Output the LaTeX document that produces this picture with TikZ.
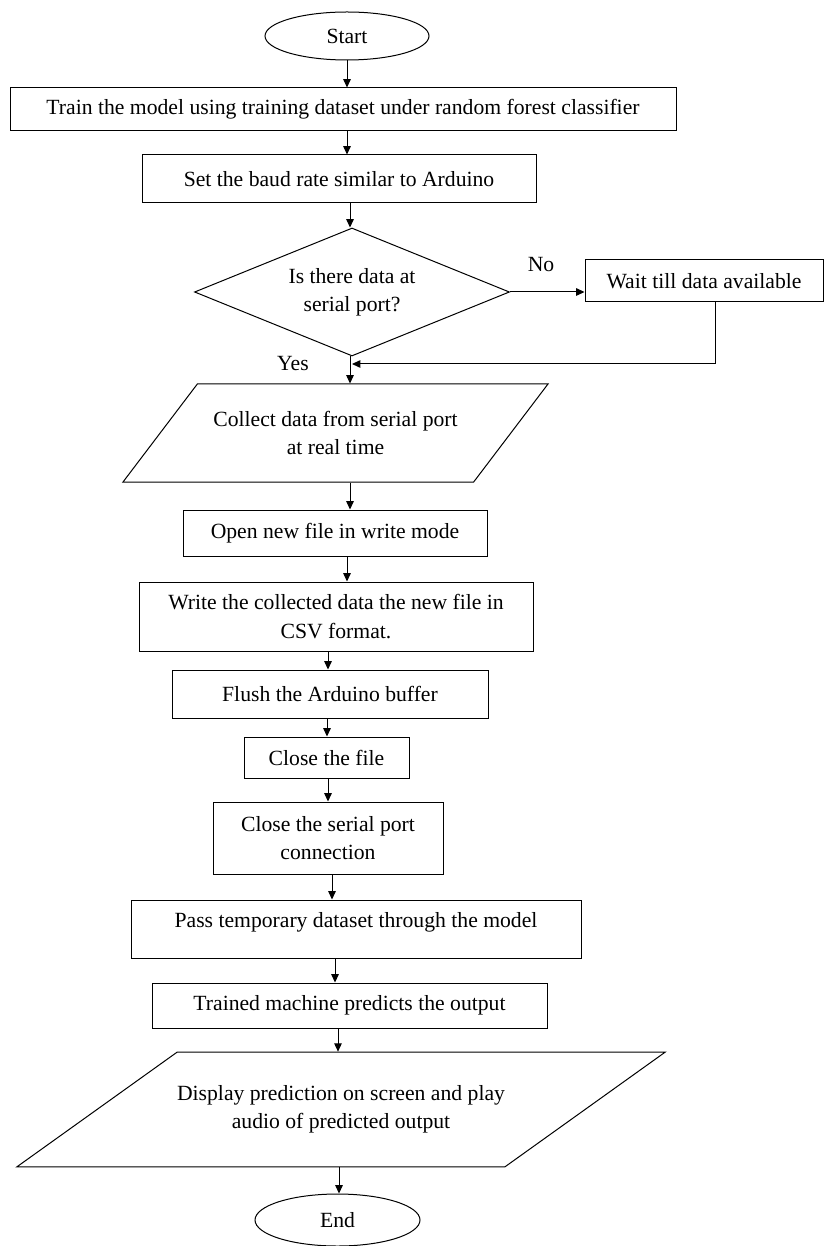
\documentclass[tikz,border=0pt]{standalone}
\usepackage{fontspec}
\setmainfont{Liberation Serif}
\usetikzlibrary{arrows.meta,shapes.geometric}

\begin{document}
\begin{tikzpicture}[x=0.6pt,y=-0.6pt,line width=0.6pt,
    >={Triangle[length=5pt,width=4.5pt]},
    font=\fontsize{13}{17}\selectfont,
    every node/.style={inner sep=0pt,align=center},
    box/.style={draw,rectangle},
    io/.style={draw,trapezium,trapezium stretches body},
    term/.style={draw,ellipse}]
  \useasboundingbox (0,0) rectangle (826,1246);
    \node[term,minimum width=98.4pt,minimum height=28.8pt] (start) at (347,36) {Start};
    \node[box,minimum width=399.6pt,minimum height=25.8pt] (train) at (343,109.5) {Train the model using training dataset under random forest classifier};
    \node[box,minimum width=236.4pt,minimum height=28.8pt] (baud) at (339,179) {Set the baud rate similar to Arduino};
    \node[draw,diamond,aspect=2.46,minimum width=189pt,minimum height=76.8pt] (query) at (352,292) {Is there data at\\serial port?};
    \node[box,minimum width=142.8pt,minimum height=25.2pt] (wait) at (704,281) {Wait till data available};
    \node[io,trapezium left angle=51.8,trapezium right angle=128.2,inner ysep=15.2pt,minimum width=255pt,minimum height=58.8pt] (collect) at (335.5,433) {Collect data from serial port\\at real time};
    \node[box,minimum width=182.4pt,minimum height=27.6pt] (open) at (335,533) {Open new file in write mode};
    \node[box,minimum width=236.4pt,minimum height=41.4pt] (write) at (336,616.5) {Write the collected data the new file in\\CSV format.};
    \node[box,minimum width=189.6pt,minimum height=28.8pt] (flush) at (330,694) {Flush the Arduino buffer};
    \node[box,minimum width=99pt,minimum height=24.6pt] (closefile) at (326.5,757.5) {Close the file};
    \node[box,minimum width=138pt,minimum height=43.2pt] (closeport) at (328,838) {Close the serial port\\connection};
    \node[box,minimum width=270pt,minimum height=34.8pt,text height=9pt,text depth=11.2pt] (pass) at (356,929) {Pass temporary dataset through the model};
    \node[box,minimum width=237pt,minimum height=27pt] (trained) at (349.5,1005.5) {Trained machine predicts the output};
    \node[io,trapezium left angle=35.6,trapezium right angle=144.4,inner ysep=20pt,minimum width=388.8pt,minimum height=67.8pt] (display) at (341,1109.5) {Display prediction on screen and play\\audio of predicted output};
    \node[term,minimum width=99pt,minimum height=31.2pt] (stop) at (337.5,1220) {End};
    \node (no) at (541,265) {No};
    \node (yes) at (293,364) {Yes};
  \foreach \a/\b/\x in {start/train/347, train/baud/347, baud/query/350, query/collect/350,
      collect/open/350, open/write/347, write/flush/328, flush/closefile/327,
      closefile/closeport/328, closeport/pass/332, pass/trained/335,
      trained/display/338, display/stop/339}
    \draw[->] (\a.south -| \x,0) -- (\b.north -| \x,0);
  \draw[->] (query.east) -- (query.east -| wait.west);
  \draw[->] (wait.south -| 715,0) |- (query.south |- 0,364);
\end{tikzpicture}
\end{document}
